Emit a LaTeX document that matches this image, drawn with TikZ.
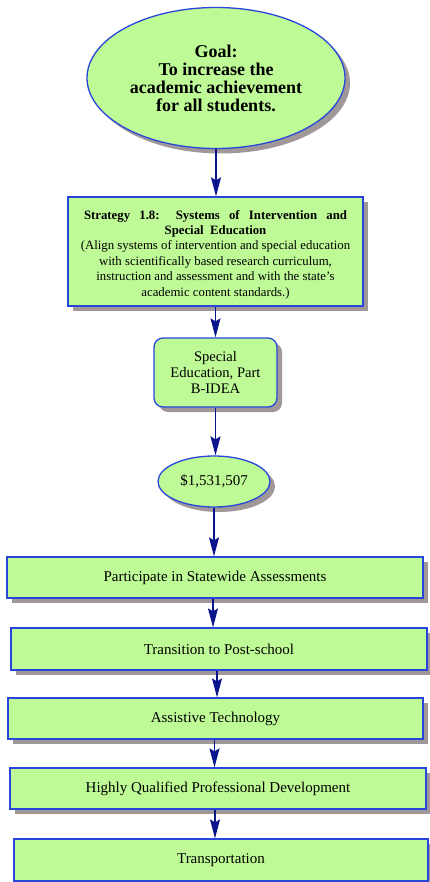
\documentclass[tikz,border=0pt]{standalone}
\usepackage{fontspec}
\setmainfont{Liberation Serif}
\usetikzlibrary{shapes.geometric,shadows,arrows.meta}
\definecolor{boxgreen}{RGB}{190,250,150}
\definecolor{boxblue}{RGB}{40,70,220}
\definecolor{arrownavy}{RGB}{10,20,140}
\definecolor{shadowgray}{RGB}{160,152,152}
\tikzset{
  base/.style={draw=boxblue, line width=1.3pt, fill=boxgreen, text=black, inner sep=0pt, align=center,
    drop shadow={shadow xshift=5pt, shadow yshift=-5pt, fill=shadowgray, opacity=1}},
  oval/.style={base, ellipse},
  rbox/.style={base, rectangle},
  roundbox/.style={base, rectangle, rounded corners=9pt},
  boxtext/.style={font=\fontsize{15}{18}\selectfont},
  flow/.style={draw=arrownavy, line width=1.1pt, -{Stealth[length=19pt,width=10pt,inset=3pt]}},
}
\begin{document}
\begin{tikzpicture}[x=1pt,y=-1pt]
\useasboundingbox (0,0) rectangle (429,882);
\node[oval, minimum width=258pt, minimum height=141pt, font=\fontsize{18}{18}\selectfont\bfseries] (goal) at (216,78)
  {Goal:\\To increase the\\academic achievement\\for all students.};
\node[rbox, minimum width=295pt, minimum height=109pt, font=\fontsize{12.8}{15.4}\selectfont] (strat) at (215.5,251.5)
  {\rule{0pt}{15pt}\textbf{\makebox[263pt][s]{Strategy 1.8: Systems of Intervention and}}\\
   \textbf{Special\ \ Education}\\
   (Align systems of intervention and special education\\
   with scientifically based research curriculum,\\
   instruction and assessment and with the state's\\
   academic content standards.)};
\node[roundbox, minimum width=123pt, minimum height=69pt, font=\fontsize{14.6}{16}\selectfont] (sped) at (215.5,372.5)
  {Special\\Education, Part\\B-IDEA};
\node[oval, minimum width=112pt, minimum height=51pt, font=\fontsize{15}{16}\selectfont] (fund) at (214,481.5)
  {\$1,531,507};
\node[rbox, boxtext, minimum width=416pt, minimum height=41pt] (b1) at (215,577.5)
  {Participate in Statewide Assessments};
\node[rbox, boxtext, minimum width=416pt, minimum height=42pt] (b2) at (219,649)
  {Transition to Post-school};
\node[rbox, boxtext, minimum width=415pt, minimum height=41pt] (b3) at (215.5,718.5)
  {Assistive Technology};
\node[rbox, boxtext, minimum width=416pt, minimum height=41pt] (b4) at (218,788.5)
  {Highly Qualified Professional Development};
\node[rbox, boxtext, minimum width=414pt, minimum height=42pt] (b5) at (221,860)
  {Transportation};
\draw[flow] (goal.south) -- (goal.south |- strat.north);
\draw[flow] (strat.south) -- (strat.south |- sped.north);
\draw[flow] (sped.south) -- (sped.south |- fund.north);
\draw[flow] (fund.south) -- (fund.south |- b1.north);
\draw[flow] ([xshift=-2pt]b1.south) -- ([xshift=-2pt]b1.south |- b2.north);
\draw[flow] ([xshift=-2pt]b2.south) -- ([xshift=-2pt]b2.south |- b3.north);
\draw[flow] ([xshift=-1pt]b3.south) -- ([xshift=-1pt]b3.south |- b4.north);
\draw[flow] ([xshift=-3pt]b4.south) -- ([xshift=-3pt]b4.south |- b5.north);
\end{tikzpicture}
\end{document}
